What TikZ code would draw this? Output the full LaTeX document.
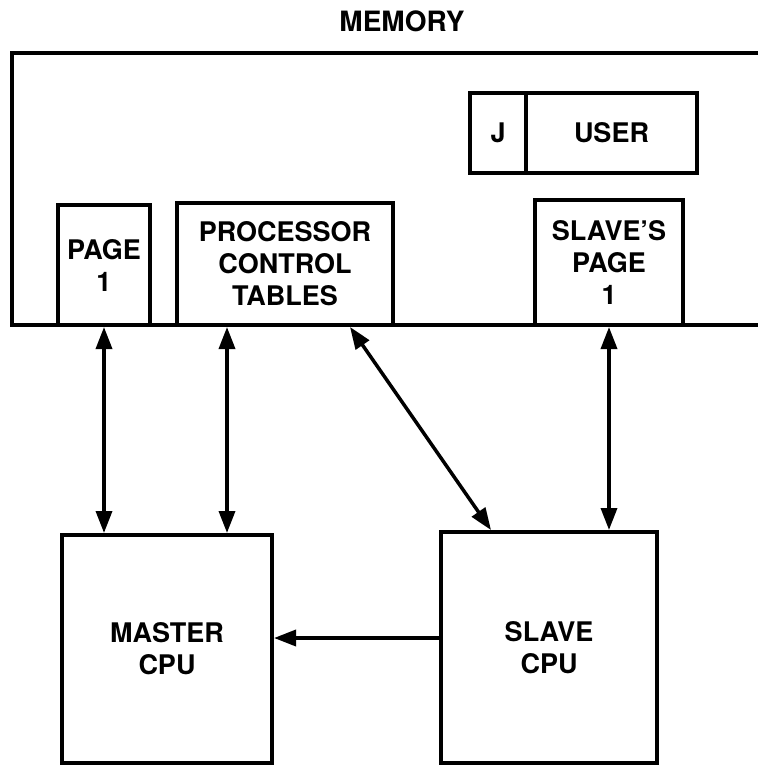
\documentclass[tikz,border=0pt]{standalone}
\usepackage{fontspec}
\setmainfont{TeX Gyre Heros}
\usetikzlibrary{arrows.meta}

\tikzset{
    box/.style={shape=rectangle,draw=black,line width=4pt,align=center,inner sep=0pt,
                font=\bfseries\fontsize{27}{32}\selectfont},
    link/.style={line width=3.5pt,{Triangle[length=22pt,width=16pt]}-{Triangle[length=22pt,width=16pt]}},
    onelink/.style={line width=3.5pt,-{Triangle[length=22pt,width=16pt]}}
}

\begin{document}
\begin{tikzpicture}[x=1pt,y=-1pt]
                \useasboundingbox (0,0) rectangle (758,765);

                % memory, open on the right
                \draw[line width=4pt] (758,53) -| (12,325) -- (758,325);
                \node[font=\bfseries\fontsize{28}{32}\selectfont] (mem) at (402,21) {MEMORY};

                \node[box,minimum width=92pt,minimum height=120pt] (page1) at (104,265) {PAGE\\1};
                \node[box,minimum width=216pt,minimum height=122pt] (pct) at (285,264) {PROCESSOR\\CONTROL\\TABLES};
                \node[box,minimum width=56pt,minimum height=80pt] (jbox) at (498,133) {J};
                \node[box,minimum width=171pt,minimum height=80pt] (user) at (611.5,133) {USER};
                \node[box,minimum width=148pt,minimum height=125pt] (spage) at (609,262.5) {SLAVE'S\\PAGE\\1};

                \node[box,minimum width=210pt,minimum height=228pt] (master) at (167,649) {MASTER\\CPU};
                \node[box,minimum width=216pt,minimum height=231pt] (slave) at (549,647.5) {SLAVE\\CPU};

                \path [link] (page1.south) edge (page1.south |- master.north);
                \path [link] ([xshift=-58pt]pct.south) edge ([xshift=60pt]master.north);
                \path [link] ([xshift=65pt]pct.south) edge ([xshift=52pt]slave.north west);
                \path [link] (spage.south) edge (spage.south |- slave.north);
                \path [onelink] ([yshift=9.5pt]slave.west) edge ([yshift=11pt]master.east);
            \end{tikzpicture}
\end{document}
